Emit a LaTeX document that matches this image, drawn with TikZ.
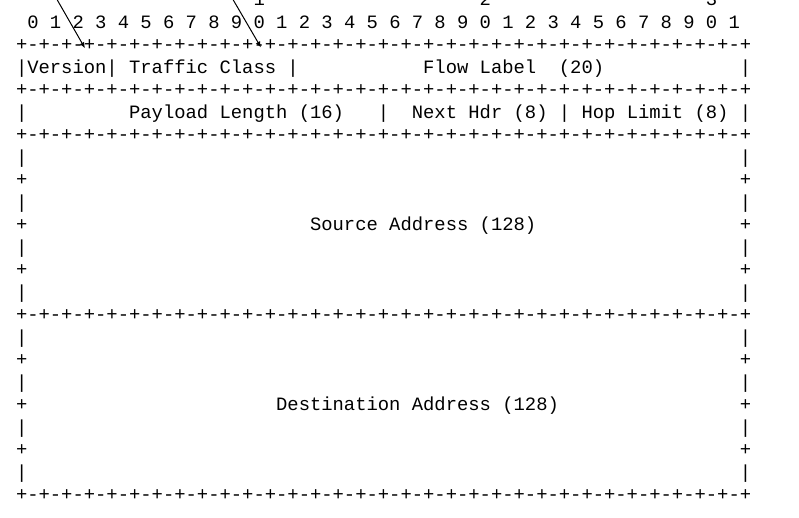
\documentclass[tikz,border=0pt]{standalone}
\usepackage{fontspec}
\usepackage{tikz}
\newfontfamily\hdrfont{Liberation Mono}
\usetikzlibrary{positioning,calc,arrows.meta}

\newcommand{\bitrule}{+-+-+-+-+-+-+-+-+-+-+-+-+-+-+-+-+-+-+-+-+-+-+-+-+-+-+-+-+-+-+-+-+}
\tikzset{
    row/.style={anchor=base west, inner sep=0pt, outer sep=0pt, font=\hdrfont\fontsize{18.85}{22.5}\selectfont},
    pointer/.style={line width=1pt, -{Latex[length=6pt,width=5pt]}}
}

\begin{document}
\begin{tikzpicture}[x=11.31pt, y=-22.5pt]
    \useasboundingbox (-1.415,-0.258) rectangle (69.23,22.72);

    % bit ruler
    \node [row] (tens1) at (21,0) {1};
    \node [row] (tens2) at (41,0) {2};
    \node [row] (tens3) at (61,0) {3};
    \node [row] (ruler) at (1,1) {0 1 2 3 4 5 6 7 8 9 0 1 2 3 4 5 6 7 8 9 0 1 2 3 4 5 6 7 8 9 0 1};

    % separator lines
    \foreach \r in {2,4,6,14,22}
        \node [row] (rule\r) at (0,\r) {\bitrule};

    % first word
    \node [row] (bar3a) at (0,3) {|};
    \node [row] (version) at (1,3) {Version};
    \node [row] (bar3b) at (8,3) {|};
    \node [row] (tclass) at (10,3) {Traffic Class};
    \node [row] (bar3c) at (24,3) {|};
    \node [row] (flow) at (36,3) {Flow Label};
    \node [row] (flowbits) at (48,3) {(20)};
    \node [row] (bar3d) at (64,3) {|};

    % second word
    \node [row] (bar5a) at (0,5) {|};
    \node [row] (payload) at (10,5) {Payload Length (16)};
    \node [row] (bar5b) at (32,5) {|};
    \node [row] (nexthdr) at (35,5) {Next Hdr (8)};
    \node [row] (bar5c) at (48,5) {|};
    \node [row] (hoplimit) at (50,5) {Hop Limit (8)};
    \node [row] (bar5d) at (64,5) {|};

    % address blocks
    \foreach \r in {7,9,11,13,15,17,19,21} {
        \node [row] (barL\r) at (0,\r) {|};
        \node [row] (barR\r) at (64,\r) {|};
    }
    \foreach \r in {8,10,12,16,18,20} {
        \node [row] (plusL\r) at (0,\r) {+};
        \node [row] (plusR\r) at (64,\r) {+};
    }
    \node [row] (src) at (26,10) {Source Address (128)};
    \node [row] (dst) at (23,18) {Destination Address (128)};

    % pointers
    \coordinate (verTail) at (3.652,-0.258);
    \coordinate (verTip) at (6.10,1.889);
    \coordinate (tcTail) at (19.21,-0.258);
    \coordinate (tcTip) at (21.66,1.853);
    \draw [pointer] (verTail) -- (verTip);
    \draw [pointer] (tcTail) -- (tcTip);
\end{tikzpicture}
\end{document}
